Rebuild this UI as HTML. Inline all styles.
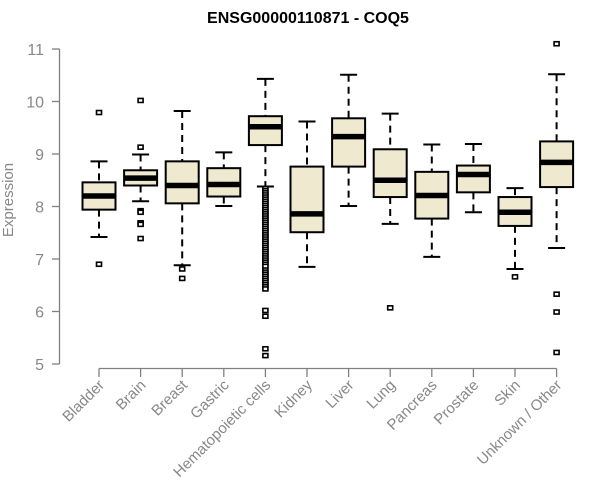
<!DOCTYPE html>
<html><head><meta charset="utf-8"><style>
body{margin:0;background:#fff;}
svg{display:block;font-family:"Liberation Sans",Arial,sans-serif;}
</style></head><body>
<svg id="chart" width="600" height="500" viewBox="0 0 600 500">
<text x="308" y="23" text-anchor="middle" font-size="16" font-weight="bold" fill="#000">ENSG00000110871 - COQ5</text>
<text transform="translate(13,200) rotate(-90)" text-anchor="middle" font-size="15" fill="#888">Expression</text>
<g id="axes"></g><g id="plot"></g>
</svg>
<script>
const categories=["Bladder","Brain","Breast","Gastric","Hematopoietic cells","Kidney","Liver","Lung","Pancreas","Prostate","Skin","Unknown / Other"];
const whiskLow=[7.42,8.10,6.88,8.01,8.38,6.85,8.01,7.67,7.04,7.89,6.81,7.21];
const q1=[7.94,8.40,8.06,8.19,9.17,7.51,8.76,8.18,7.77,8.27,7.63,8.37];
const medians=[8.20,8.54,8.40,8.42,9.52,7.86,9.33,8.50,8.21,8.61,7.89,8.84];
const q3=[8.46,8.69,8.86,8.73,9.72,8.76,9.68,9.09,8.66,8.78,8.18,9.24];
const whiskHigh=[8.86,8.99,9.82,9.03,10.43,9.62,10.51,9.77,9.18,9.19,8.35,10.52];
const outliers=[[9.79,6.90],[10.02,9.13,7.92,7.89,7.69,7.66,7.39],[6.81,6.63],[],
[8.34,8.30,8.26,8.22,8.18,8.14,8.10,8.06,8.02,7.98,7.94,7.90,7.86,7.82,7.78,7.74,7.70,7.66,7.62,7.58,7.54,7.50,7.46,7.42,7.38,7.34,7.30,7.26,7.22,7.18,7.14,7.10,7.06,7.02,6.98,6.94,6.90,6.86,6.79,6.75,6.71,6.67,6.63,6.59,6.55,6.51,6.47,6.43,6.02,5.91,5.29,5.16],
[],[],[6.07],[],[],[6.66],[11.10,6.33,5.99,5.22]];
const yTicks=[5,6,7,8,9,10,11];
const NS="http://www.w3.org/2000/svg";
const y=v=>364-(v-5)*52.5;
const x=i=>99+i*41.6;
function mk(tag,attrs,parent){const e=document.createElementNS(NS,tag);for(const k in attrs)e.setAttribute(k,attrs[k]);parent.appendChild(e);return e;}
const axes=document.getElementById('axes'),plot=document.getElementById('plot');
let e=mk('line',{x1:59.5,x2:59.5,y1:y(11),y2:y(5),stroke:'#808080','stroke-width':1.3},axes);


yTicks.forEach(t=>{
 let l=mk('line',{x1:52,x2:59.5,y1:y(t),y2:y(t),stroke:'#808080','stroke-width':1.3},axes);
 
 
 let tx=mk('text',{x:44,y:y(t)+6,'text-anchor':'end','font-size':16,fill:'#888'},axes);
 tx.textContent=t;
 
 
});
e=mk('line',{x1:x(0),x2:x(categories.length-1),y1:368.5,y2:368.5,stroke:'#808080','stroke-width':1.3},axes);


categories.forEach((c,i)=>{
 const cx=x(i);
 let l=mk('line',{x1:cx,x2:cx,y1:368.5,y2:377,stroke:'#808080','stroke-width':1.3},axes);
 
 
 let tx=mk('text',{transform:`translate(${cx+6},386) rotate(-45)`,'text-anchor':'end','font-size':15,fill:'#888'},axes);
 tx.textContent=c;
 
 
 const g=mk('g',{},plot);
 
 
 mk('line',{x1:cx,x2:cx,y1:y(whiskHigh[i]),y2:y(q3[i]),stroke:'#000','stroke-width':2,'stroke-dasharray':'7,5'},g);
 mk('line',{x1:cx,x2:cx,y1:y(q1[i]),y2:y(whiskLow[i]),stroke:'#000','stroke-width':2,'stroke-dasharray':'7,5'},g);
 mk('line',{x1:cx-8.5,x2:cx+8.5,y1:y(whiskHigh[i]),y2:y(whiskHigh[i]),stroke:'#000','stroke-width':2},g);
 mk('line',{x1:cx-8.5,x2:cx+8.5,y1:y(whiskLow[i]),y2:y(whiskLow[i]),stroke:'#000','stroke-width':2},g);
 mk('rect',{x:cx-16.5,y:y(q3[i]),width:33,height:y(q1[i])-y(q3[i]),fill:'#efe9d0',stroke:'#000','stroke-width':2},g);
 mk('line',{x1:cx-16.5,x2:cx+16.5,y1:y(medians[i]),y2:y(medians[i]),stroke:'#000','stroke-width':5.5},g);
 outliers[i].forEach(v=>{
  let r=mk('rect',{x:cx-2.5,y:y(v)-2,width:5,height:4,fill:'#fff',stroke:'#000','stroke-width':1.6},g);
  
  
 });
});
</script>
</body></html>
